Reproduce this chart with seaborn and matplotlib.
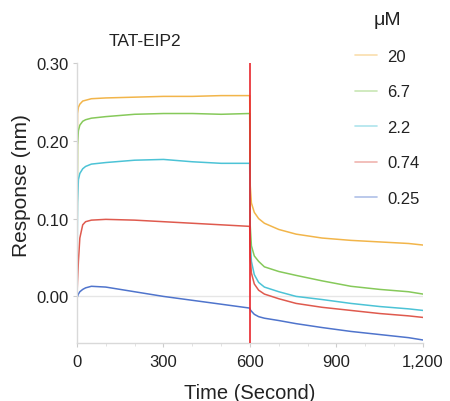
import numpy as np
import pandas as pd
import matplotlib
matplotlib.use("Agg")
import matplotlib.pyplot as plt
import matplotlib.ticker as mticker
import seaborn as sns

time_s = [0, 2, 5, 10, 20, 30, 50, 100, 200, 300, 400, 500, 599,
          601, 605, 615, 630, 650, 700, 760, 850, 950, 1050, 1150, 1200]

conc_labels = ["20", "6.7", "2.2", "0.74", "0.25"]

resp_20 = [0.0, 0.235, 0.243, 0.247, 0.251, 0.252, 0.254, 0.255, 0.256, 0.257, 0.257, 0.258, 0.258,
           0.142, 0.120, 0.108, 0.100, 0.094, 0.086, 0.080, 0.075, 0.072, 0.070, 0.068, 0.066]
resp_6_7 = [0.0, 0.195, 0.213, 0.220, 0.225, 0.227, 0.229, 0.231, 0.234, 0.235, 0.235, 0.234, 0.235,
            0.090, 0.065, 0.052, 0.045, 0.038, 0.032, 0.027, 0.020, 0.013, 0.009, 0.006, 0.003]
resp_2_2 = [0.0, 0.120, 0.150, 0.158, 0.164, 0.167, 0.170, 0.172, 0.175, 0.176, 0.173, 0.171, 0.171,
            0.070, 0.045, 0.028, 0.018, 0.012, 0.006, 0.000, -0.004, -0.009, -0.013, -0.016, -0.018]
resp_0_74 = [0.0, 0.020, 0.045, 0.075, 0.092, 0.096, 0.098, 0.099, 0.098, 0.096, 0.094, 0.092, 0.090,
             0.050, 0.030, 0.016, 0.008, 0.003, -0.003, -0.009, -0.014, -0.018, -0.022, -0.025, -0.027]
resp_0_25 = [-0.002, 0.0, 0.003, 0.006, 0.009, 0.011, 0.013, 0.012, 0.006, 0.000, -0.005, -0.010, -0.015,
             -0.017, -0.019, -0.023, -0.026, -0.028, -0.031, -0.035, -0.040, -0.045, -0.049, -0.053, -0.056]

colors = ["#f2b54a", "#86c95a", "#4cc3d6", "#df5a4e", "#4f74cc"]

series = [resp_20, resp_6_7, resp_2_2, resp_0_74, resp_0_25]
frames = []
for lab, vals in zip(conc_labels, series):
    frames.append(pd.DataFrame({"Time": time_s, "Response": vals, "conc": lab}))
df = pd.concat(frames, ignore_index=True)

sns.set_style("white")
plt.rcParams["font.family"] = ["Liberation Sans", "DejaVu Sans"]

fig = plt.figure(figsize=(4.5, 4.02), dpi=100)
ax = fig.add_axes([0.171, 0.144, 0.769, 0.697])

ax.axhline(0, color="#e6e6e6", lw=1, zorder=0)
sns.lineplot(data=df, x="Time", y="Response", hue="conc", hue_order=conc_labels,
             palette=colors, lw=1.1, ax=ax, legend=True)
ax.axvline(600, color="#e8262c", lw=1.2, zorder=5)

ax.set_xlim(0, 1200)
ax.set_ylim(-0.06, 0.30)
ax.set_xticks([0, 300, 600, 900, 1200])
ax.xaxis.set_minor_locator(mticker.MultipleLocator(100))
ax.xaxis.set_major_formatter(mticker.FuncFormatter(lambda v, p: f"{int(v):,}"))
ax.set_yticks([0.0, 0.1, 0.2, 0.3])
ax.yaxis.set_major_formatter(mticker.FormatStrFormatter("%.2f"))

for s in ["top", "right"]:
    ax.spines[s].set_visible(False)
for s in ["left", "bottom"]:
    ax.spines[s].set_color("#d9d9d9")
    ax.spines[s].set_linewidth(1)

ax.tick_params(axis="both", which="major", length=3, color="#cccccc", labelsize=12,
               labelcolor="#222222", pad=3)
ax.tick_params(axis="x", which="major", pad=5)
ax.tick_params(axis="x", which="minor", length=2, color="#dddddd")
ax.tick_params(axis="x", which="both", bottom=True)
ax.tick_params(axis="y", which="major", left=True)

ax.set_xlabel("Time (Second)", fontsize=14.5, color="#222222", va="center")
ax.set_ylabel("Response (nm)", fontsize=15, color="#222222", va="center")
ax.xaxis.set_label_coords(0.5, (344 - 393) / 280)
ax.yaxis.set_label_coords((22 - 77) / 346, (344 - 185.5) / 280)

fig.text(145 / 450, 1 - 42 / 402, "TAT-EIP2", ha="center", va="center", fontsize=12.5, color="#222222")

handles, labels = ax.get_legend_handles_labels()
leg = ax.legend(handles, labels, title="μM", loc="upper left",
                bbox_to_anchor=(352 / 450, 1 - 9 / 402), bbox_transform=fig.transFigure,
                frameon=False, fontsize=12, title_fontsize=14, labelspacing=1.23,
                handlelength=1.3, handletextpad=0.6, borderpad=0.2, borderaxespad=0)
for h in leg.get_lines():
    h.set_alpha(0.45)
    h.set_linewidth(1.2)
for t in leg.get_texts():
    t.set_color("#222222")
leg.get_title().set_color("#222222")

fig.savefig("out.png", dpi=100)
